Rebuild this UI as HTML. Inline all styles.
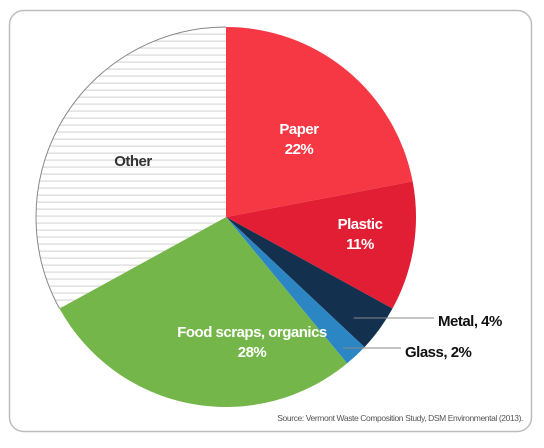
<!DOCTYPE html>
<html><head><meta charset="utf-8"><style>
body{margin:0;background:#fff;font-family:"Liberation Sans",sans-serif;}
</style></head><body>
<svg width="544" height="443">
<defs><pattern id="hatch" width="10" height="7" patternUnits="userSpaceOnUse"><rect width="10" height="7" fill="#fff"/><rect y="5.5" width="10" height="1.2" fill="#d8d8d8"/></pattern></defs>
<rect x="9.5" y="10.5" width="522" height="421" rx="14" fill="#fff" stroke="#bdbdbd" stroke-width="1.5"/>
<g id="slices"></g>
<g id="labels" font-weight="bold"></g>
<text x="523" y="421" font-size="8.5" fill="#555" text-anchor="end" letter-spacing="-0.4">Source: Vermont Waste Composition Study, DSM Environmental (2013).</text>
</svg>
<script>
const categories=["Paper","Plastic","Metal","Glass","Food scraps, organics","Other"];
const values=[22,11,4,2,28,33];
const colors=["#f53844","#e21e34","#13304f","#2b86c3","#74b64a","url(#hatch)"];
const cx=226,cy=217,r=190;
const ns="http://www.w3.org/2000/svg";
const total=values.reduce((a,b)=>a+b,0);
function pt(a,rr){return [cx+rr*Math.sin(a),cy-rr*Math.cos(a)];}
let a0=0;const g=document.getElementById('slices');const mids=[];
values.forEach((v,i)=>{
  const a1=a0+v/total*2*Math.PI;
  const p0=pt(a0,r),p1=pt(a1,r);
  const big=a1-a0>Math.PI?1:0;
  const p=document.createElementNS(ns,'path');
  p.setAttribute('d',`M${cx},${cy}L${p0[0]},${p0[1]}A${r},${r} 0 ${big} 1 ${p1[0]},${p1[1]}Z`);
  p.setAttribute('fill',colors[i]);
  
  
  g.appendChild(p);
  if(i===5){
    const arc=document.createElementNS(ns,'path');
    arc.setAttribute('d',`M${p0[0]},${p0[1]}A${r},${r} 0 ${big} 1 ${p1[0]},${p1[1]}`);
    arc.setAttribute('fill','none');arc.setAttribute('stroke','#888');arc.setAttribute('stroke-width','1');
    
    
    g.appendChild(arc);
  }
  mids.push((a0+a1)/2);a0=a1;
});
const L=document.getElementById('labels');
function txt(x,y,s,fill,anchor,size,name){const t=document.createElementNS(ns,'text');t.setAttribute('x',x);t.setAttribute('y',y);t.setAttribute('fill',fill);t.setAttribute('text-anchor',anchor);t.setAttribute('font-size',size);t.setAttribute('letter-spacing','-0.5');t.textContent=s;


L.appendChild(t);}
function line(x1,y1,x2,y2,name){const l=document.createElementNS(ns,'line');l.setAttribute('x1',x1);l.setAttribute('y1',y1);l.setAttribute('x2',x2);l.setAttribute('y2',y2);l.setAttribute('stroke','#888');l.setAttribute('stroke-width','1');


L.appendChild(l);}
txt(299,134,categories[0],'#fff','middle',15,'label-paper');
txt(299,154,values[0]+'%','#fff','middle',15,'label-paper-value');
txt(360,229,categories[1],'#fff','middle',15,'label-plastic');
txt(360,249,values[1]+'%','#fff','middle',15,'label-plastic-value');
const pm=pt(mids[2],r*0.83);line(pm[0],318,434,318,'metal-leader');
txt(438,326,categories[2]+', '+values[2]+'%','#111','start',15,'label-metal');
const pg=pt(mids[3],r*0.9);line(pg[0],348,401,348,'glass-leader');
txt(405,357,categories[3]+', '+values[3]+'%','#111','start',15,'label-glass');
txt(252,337,categories[4],'#fff','middle',15,'label-food');
txt(252,357,values[4]+'%','#fff','middle',15,'label-food-value');
txt(133,166,categories[5],'#333','middle',15,'label-other');
</script>
</body></html>
